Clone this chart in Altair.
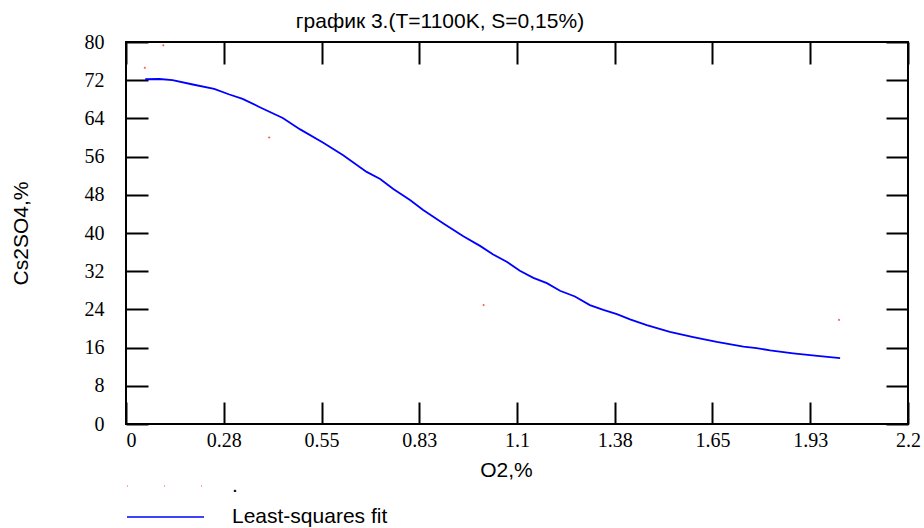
import altair as alt
import pandas as pd

# ---- data ----
fit_x = [0.054, 0.094, 0.131, 0.188, 0.248, 0.291, 0.328, 0.375, 0.441, 0.490,
         0.555, 0.611, 0.677, 0.715, 0.752, 0.799, 0.836, 0.893, 0.949, 0.996,
         1.033, 1.071, 1.108, 1.146, 1.184, 1.221, 1.263, 1.305, 1.343, 1.381,
         1.418, 1.465, 1.530, 1.596, 1.662, 1.737, 1.774, 1.812, 1.877, 1.952, 2.009]
fit_y = [72.2, 72.25, 72.0, 71.1, 70.2, 69.0, 68.1, 66.4, 64.1, 61.7,
         58.9, 56.3, 52.8, 51.3, 49.2, 46.9, 44.8, 42.0, 39.3, 37.3,
         35.5, 34.0, 32.1, 30.6, 29.5, 27.9, 26.7, 24.9, 23.9, 23.0,
         21.9, 20.7, 19.3, 18.2, 17.2, 16.2, 15.9, 15.4, 14.8, 14.2, 13.8]

pts_x = [0.053, 0.105, 0.403, 1.006, 2.006]
pts_y = [74.6, 79.3, 60.0, 24.9, 21.8]

x_ticks = [0, 0.275, 0.55, 0.825, 1.1, 1.375, 1.65, 1.925, 2.2]
x_tick_labels = ["0", "0.28", "0.55", "0.83", "1.1", "1.38", "1.65", "1.93", "2.2"]
y_ticks = [0, 8, 16, 24, 32, 40, 48, 56, 64, 72, 80]

series_names = [".", "Least-squares fit"]
title_text = "график 3.(T=1100K, S=0,15%)"
x_title = "O2,%"
y_title = "Cs2SO4,%"

fit_df = pd.DataFrame({"x": fit_x, "y": fit_y, "series": series_names[1]})
pts_df = pd.DataFrame({"x": pts_x, "y": pts_y, "series": series_names[0]})

label_expr = " : ".join(
    f"abs(datum.value - {v}) < 1e-6 ? '{l}'" for v, l in zip(x_ticks, x_tick_labels)
) + " : datum.label"

SERIF = "Liberation Serif"
SANS = "Liberation Sans"
FS = 20
SFS = 21
TICK = 22

xs = alt.Scale(domain=[0, 2.2], nice=False, zero=False)
ys = alt.Scale(domain=[0, 80], nice=False, zero=False)

tick_axis_common = dict(grid=False, domain=False, labels=False, title=None,
                        tickSize=TICK, tickWidth=2, tickColor="black", offset=-TICK)

# layer 1: fit line with labelled axes
line = alt.Chart(fit_df).mark_line(strokeWidth=1.8).encode(
    x=alt.X("x:Q", scale=xs, axis=alt.Axis(
        orient="bottom", values=x_ticks, labelExpr=label_expr, ticks=False, tickSize=0,
        domain=False, grid=False, labelFont=SERIF, labelFontSize=FS, labelColor="black",
        labelPadding=6, labelFlush=False,
        labelAlign={"condition": {"test": "datum.value == 0", "value": "left"}, "value": "center"},
        title=x_title, titleFont=SANS, titleFontSize=SFS, titleFontWeight="normal",
        titleColor="black", titleX=380, titleY=52, titleBaseline="alphabetic",
        titleAlign="center")),
    y=alt.Y("y:Q", scale=ys, axis=alt.Axis(
        orient="left", values=y_ticks, ticks=False, tickSize=0, domain=False, grid=False,
        labelFont=SERIF, labelFontSize=FS, labelColor="black", labelPadding=22,
        title=y_title, titleFont=SANS, titleFontSize=SFS, titleFontWeight="normal",
        titleColor="black", titleAngle=270, titleX=-99, titleY=191,
        titleBaseline="alphabetic", titleAlign="center")),
    color=alt.Color("series:N",
                    scale=alt.Scale(domain=[series_names[1]], range=["#0000ff"]),
                    legend=alt.Legend(title=None, orient="none", legendX=0, legendY=465,
                                      symbolType="stroke", symbolSize=5929,
                                      symbolStrokeWidth=1.5, clipHeight=20, padding=0,
                                      labelFont=SANS, labelFontSize=SFS, labelColor="black",
                                      labelOffset=27)),
)

# layer 2: data points, inward ticks on bottom/left
points = alt.Chart(pts_df).mark_point(shape="square", size=1, filled=False,
                                      strokeWidth=1).encode(
    x=alt.X("x:Q", scale=xs, axis=alt.Axis(orient="bottom", values=x_ticks, **tick_axis_common)),
    y=alt.Y("y:Q", scale=ys, axis=alt.Axis(orient="left", values=y_ticks, **tick_axis_common)),
    color=alt.Color("series:N",
                    scale=alt.Scale(domain=[series_names[0]], range=["#ff0000"]),
                    legend=alt.Legend(title=None, orient="none", legendX=0, legendY=434,
                                      symbolType="stroke", symbolSize=5929,
                                      symbolStrokeWidth=1.2, symbolDash=[1, 36],
                                      clipHeight=20, padding=0,
                                      labelFont=SANS, labelFontSize=SFS, labelColor="black",
                                      labelOffset=27)),
)

# layer 3: mirrored inward ticks on top/right
mirror = alt.Chart(pts_df).mark_point(opacity=0).encode(
    x=alt.X("x:Q", scale=xs, axis=alt.Axis(orient="top", values=x_ticks, **tick_axis_common)),
    y=alt.Y("y:Q", scale=ys, axis=alt.Axis(orient="right", values=y_ticks, **tick_axis_common)),
)

chart = alt.layer(line, points, mirror).resolve_axis(
    x="independent", y="independent"
).resolve_scale(color="independent").properties(
    width=782, height=382,
    autosize=alt.AutoSizeParams(type="none"),
    padding={"left": 126, "top": 42, "right": 16, "bottom": 104},
    background="white",
    title=alt.TitleParams(title_text, anchor="middle", frame="group", dx=-77, dy=27,
                          offset=10, baseline="alphabetic", font=SANS, fontSize=SFS,
                          fontWeight="normal", color="black"),
).configure_view(stroke="black", strokeWidth=2)

chart.save("out.html", embed_options={"renderer": "svg", "actions": False})
